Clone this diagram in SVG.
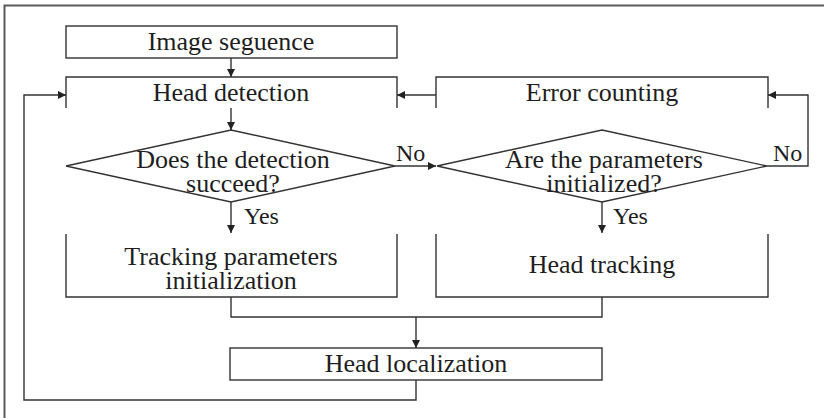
<svg xmlns="http://www.w3.org/2000/svg" width="824" height="418" viewBox="0 0 824 418">
  <defs>
    <marker id="arrow" viewBox="0 0 10 10" refX="10" refY="5" markerWidth="8" markerHeight="8" markerUnits="userSpaceOnUse" orient="auto">
      <path d="M0,0 L10,5 L0,10 Z" fill="#222"/>
    </marker>
    <style>
      .frame { fill: none; stroke: #5a5a5a; stroke-width: 2; }
      .box { fill: none; stroke: #333; stroke-width: 1.4; }
      .wire { fill: none; stroke: #333; stroke-width: 1.4; }
      .arr { marker-end: url(#arrow); }
      .c { text-anchor: middle; }
      .lbl { font-size: 24px; }
    </style>
  </defs>

  <rect width="824" height="418" fill="#ffffff"/>
  <!-- outer frame: only top and left edges -->
  <path class="frame" d="M4.5,418 V5.5 H824"/>

  <g font-family="'Liberation Serif', 'Times New Roman', 'DejaVu Serif', serif" font-size="26" fill="#1e1e1e">
    <g id="image-sequence">
      <rect class="box" x="66" y="26" width="331" height="32"/>
      <text class="c" x="231" y="50">Image seguence</text>
    </g>

    <g id="head-detection">
      <path class="box" d="M66,108 V77 H397 V108"/>
      <text class="c" x="231" y="101">Head detection</text>
    </g>

    <g id="error-counting">
      <path class="box" d="M436,108 V77 H768 V108"/>
      <text class="c" x="602" y="101">Error counting</text>
    </g>

    <g id="detection-decision">
      <polygon class="box" points="231,130 395,166 231,202 66,166"/>
      <text class="c" x="233" y="168">Does the detection</text>
      <text class="c" x="233" y="192">succeed?</text>
    </g>

    <g id="init-decision">
      <polygon class="box" points="602,130 767,166 602,202 437,166"/>
      <text class="c" x="604" y="168">Are the parameters</text>
      <text class="c" x="604" y="192">initialized?</text>
    </g>

    <g id="tracking-init">
      <path class="box" d="M66,234 V297 H397 V234"/>
      <text class="c" x="231" y="265">Tracking parameters</text>
      <text class="c" x="231" y="289">initialization</text>
    </g>

    <g id="head-tracking">
      <path class="box" d="M436,234 V297 H768 V234"/>
      <text class="c" x="602" y="273">Head tracking</text>
    </g>

    <g id="head-localization">
      <rect class="box" x="230" y="348" width="372" height="32"/>
      <text class="c" x="416" y="372">Head localization</text>
    </g>

    <g id="connectors">
      <path class="wire arr" d="M231,58 V77"/>
      <path class="wire arr" d="M231,108 V130"/>
      <path class="wire arr" d="M395,166 H436"/>
      <path class="wire arr" d="M436,95 H397"/>
      <path class="wire arr" d="M767,166 H808 V95 H768"/>
      <path class="wire arr" d="M231,202 V233"/>
      <path class="wire arr" d="M602,202 V233"/>
      <path class="wire" d="M231,297 V317 H602 V297"/>
      <path class="wire arr" d="M416,317 V348"/>
      <path class="wire arr" d="M416,380 V400 H24 V95 H66"/>
      <text class="lbl" x="396" y="161">No</text>
      <text class="lbl" x="773" y="161">No</text>
      <text class="lbl" x="244" y="224">Yes</text>
      <text class="lbl" x="613" y="224">Yes</text>
    </g>
  </g>
</svg>
